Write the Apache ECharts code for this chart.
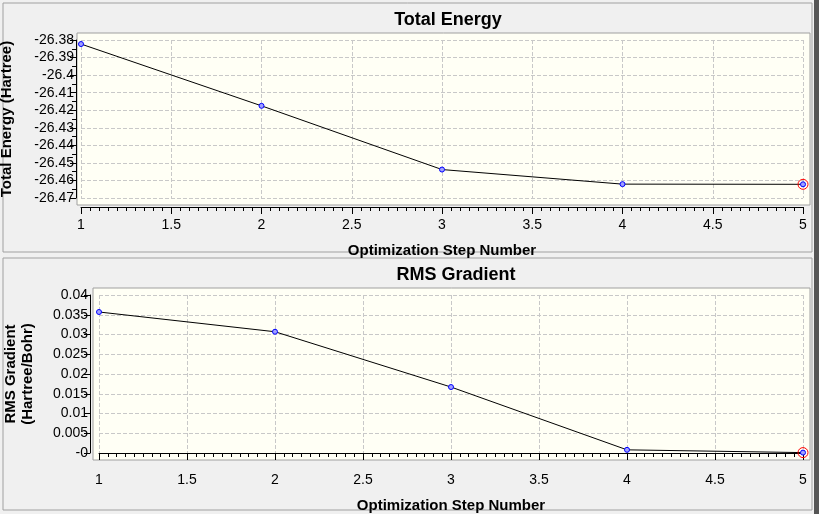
<!DOCTYPE html>
<html>
<head>
<meta charset="utf-8">
<script src="https://cdn.jsdelivr.net/npm/echarts@6/dist/echarts.min.js"></script>
<style>
  html, body { margin: 0; padding: 0; background: #f0f0f0; }
  #chart { width: 819px; height: 514px; }
</style>
</head>
<body>
<div id="chart"></div>
<script>
const steps = [1, 2, 3, 4, 5];
const energy = [-26.3823, -26.4175, -26.4538, -26.4621, -26.4622];
const rmsGrad = [0.0357, 0.0307, 0.0167, 0.0008, 0.0001];

const font = "Liberation Sans, Arial, sans-serif";
const chart = echarts.init(document.getElementById("chart"));

const xAxisBase = (gridIndex) => ({
  gridIndex,
  type: "value",
  min: 1, max: 5, interval: 0.5,
  offset: 9,
  name: "Optimization Step Number",
  nameLocation: "middle",
  nameGap: 36,
  nameTextStyle: { fontFamily: font, fontWeight: "bold", fontSize: 15, color: "#000" },
  axisLine: { show: true, lineStyle: { color: "#000" } },
  axisTick: { show: true, inside: false, length: 7, lineStyle: { color: "#000" } },
  minorTick: { show: true, splitNumber: 10, length: 4, lineStyle: { color: "#000" } },
  axisLabel: { fontFamily: font, fontSize: 14, color: "#000", margin: 11 },
  splitLine: { show: true, lineStyle: { color: "#c8c8c8", type: "dashed" } },
});

const dataOf = (ys) => steps.map((s, i) => [s, ys[i]]);
const lineSeries = (idx, ys) => ({
  type: "line",
  xAxisIndex: idx, yAxisIndex: idx,
  data: dataOf(ys),
  symbol: "circle", symbolSize: 5,
  lineStyle: { color: "#000", width: 1 },
  itemStyle: { color: "#a0a0ff", borderColor: "#0000ff", borderWidth: 1 },
  markPoint: {
    symbol: "circle", symbolSize: 10,
    itemStyle: { color: "transparent", borderColor: "#ff0000", borderWidth: 1 },
    label: { show: false },
    data: [{ coord: [5, ys[4]] }],
  },
  animation: false,
});

chart.setOption({
  animation: false,
  backgroundColor: "#f0f0f0",
  graphic: [
    { type: "rect", shape: { x: 3, y: 3, width: 809, height: 249 }, style: { fill: "#f0f0f0", stroke: "#a0a0a0" }, z: -10 },
    { type: "rect", shape: { x: 3, y: 258, width: 809, height: 252 }, style: { fill: "#f0f0f0", stroke: "#a0a0a0" }, z: -10 },
    { type: "rect", shape: { x: 77, y: 33, width: 733, height: 172 }, style: { fill: "#fffff5", stroke: "#a0a0a0" }, z: -5 },
    { type: "rect", shape: { x: 93, y: 288, width: 717, height: 172 }, style: { fill: "#fffff5", stroke: "#a0a0a0" }, z: -5 },
    { type: "rect", shape: { x: 814, y: 0, width: 5, height: 514 }, style: { fill: "#555" }, z: -10 },
  ],
  title: [
    { text: "Total Energy", left: 443, top: 6, textAlign: "center",
      textStyle: { fontFamily: font, fontWeight: "bold", fontSize: 18, color: "#000" } },
    { text: "RMS Gradient", left: 451, top: 261, textAlign: "center",
      textStyle: { fontFamily: font, fontWeight: "bold", fontSize: 18, color: "#000" } },
  ],
  grid: [
    { left: 81, top: 40, width: 722, height: 158, containLabel: false, outerBoundsMode: "none" },
    { left: 99, top: 295, width: 704, height: 158, containLabel: false, outerBoundsMode: "none" },
  ],
  xAxis: [xAxisBase(0), xAxisBase(1)],
  yAxis: [
    {
      gridIndex: 0, type: "value",
      min: -26.47, max: -26.38, interval: 0.01,
      offset: 5,
      name: "Total Energy (Hartree)",
      nameLocation: "middle", nameGap: 62,
      nameTextStyle: { fontFamily: font, fontWeight: "bold", fontSize: 15, color: "#000" },
      axisLine: { show: true, lineStyle: { color: "#000" } },
      axisTick: { show: true, length: 6, lineStyle: { color: "#000" } },
      minorTick: { show: true, splitNumber: 2, length: 4, lineStyle: { color: "#000" } },
      axisLabel: { fontFamily: font, fontSize: 14, color: "#000", margin: 2,
        formatter: (v) => String(+v.toFixed(2)) },
      splitLine: { show: true, lineStyle: { color: "#c8c8c8", type: "dashed" } },
    },
    {
      gridIndex: 1, type: "value",
      min: 0, max: 0.04, interval: 0.005,
      offset: 9,
      name: "RMS Gradient\n(Hartree/Bohr)",
      nameLocation: "middle", nameGap: 54,
      nameTextStyle: { fontFamily: font, fontWeight: "bold", fontSize: 15, color: "#000", lineHeight: 17 },
      axisLine: { show: true, lineStyle: { color: "#000" } },
      axisTick: { show: true, length: 6, lineStyle: { color: "#000" } },
      axisLabel: { fontFamily: font, fontSize: 14, color: "#000", margin: 2,
        formatter: (v) => (v === 0 ? "-0" : String(+v.toFixed(3))) },
      splitLine: { show: true, lineStyle: { color: "#c8c8c8", type: "dashed" } },
    },
  ],
  series: [lineSeries(0, energy), lineSeries(1, rmsGrad)],
});
</script>
</body>
</html>
